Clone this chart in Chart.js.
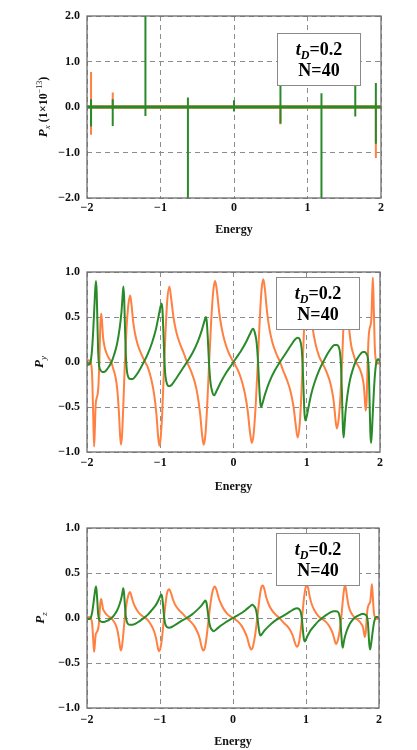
<!DOCTYPE html>
<html>
<head>
<meta charset="utf-8">
<script src="https://cdn.jsdelivr.net/npm/chart.js@4.4.1/dist/chart.umd.min.js"></script>
<style>
  body { margin: 0; background: #fff; }
  canvas { position: absolute; left: 0; }
</style>
</head>
<body>
<canvas id="px" width="417" height="250" style="top:0"></canvas>
<canvas id="py" width="417" height="250" style="top:250px"></canvas>
<canvas id="pz" width="417" height="250" style="top:500px"></canvas>
<script>
// ---- data ----
const xTicks = [-2, -1, 0, 1, 2];

// P_x panel: flat noise band at zero plus narrow spikes (units of 1e-13)
const bandEnergy = [-2, 2];
const bandValue = [0, 0];
const greenSpikeE  = [-1.945, -1.65, -1.205, -0.627, 0, 0.632, 1.19, 1.65, 1.93];
const greenSpikeHi = [0.17, 0.17, 2.1, 0.21, 0.15, 0.6, 0.3, 0.6, 0.53];
const greenSpikeLo = [-0.43, -0.42, -0.2, -2.1, -0.1, -0.36, -2.1, -0.21, -0.81];
const orangeSpikeE  = [-1.945, -1.65, 0.632, 1.93];
const orangeSpikeHi = [0.77, 0.32, 0.05, 0.1];
const orangeSpikeLo = [-0.61, -0.05, -0.38, -1.12];

// energies sampled along the orange and green curves
const energyOrange = [-2.00,-1.975,-1.95,-1.93,-1.915,-1.903,-1.893,-1.882,-1.868,-1.855,-1.843,-1.83,-1.818,-1.805,-1.793,-1.78,-1.76,-1.735,-1.70,-1.67,-1.64,-1.61,-1.585,-1.565,-1.548,-1.536,-1.522,-1.505,-1.485,-1.46,-1.435,-1.41,-1.39,-1.37,-1.345,-1.31,-1.27,-1.22,-1.17,-1.12,-1.08,-1.05,-1.03,-1.012,-0.995,-0.975,-0.955,-0.93,-0.905,-0.875,-0.85,-0.82,-0.78,-0.73,-0.68,-0.635,-0.58,-0.53,-0.49,-0.455,-0.43,-0.408,-0.385,-0.36,-0.335,-0.305,-0.275,-0.25,-0.225,-0.195,-0.16,-0.12,-0.07,0,
  0.07,0.12,0.16,0.195,0.225,0.25,0.275,0.305,0.335,0.36,0.385,0.408,0.43,0.455,0.49,0.53,0.58,0.635,0.68,0.73,0.78,0.82,0.85,0.875,0.905,0.93,0.955,0.975,0.995,1.012,1.03,1.05,1.08,1.12,1.17,1.22,1.27,1.31,1.345,1.37,1.39,1.41,1.435,1.46,1.485,1.505,1.522,1.536,1.548,1.565,1.585,1.61,1.64,1.67,1.70,1.735,1.76,1.78,1.793,1.805,1.818,1.83,1.843,1.855,1.868,1.882,1.893,1.903,1.915,1.93,1.95,1.975,2.00];
const energyGreen = [-2.00,-1.98,-1.96,-1.945,-1.93,-1.915,-1.9,-1.888,-1.877,-1.868,-1.858,-1.848,-1.835,-1.815,-1.79,-1.765,-1.735,-1.70,-1.665,-1.63,-1.59,-1.555,-1.53,-1.515,-1.503,-1.493,-1.482,-1.47,-1.455,-1.435,-1.41,-1.38,-1.34,-1.29,-1.23,-1.17,-1.11,-1.06,-1.02,-0.995,-0.982,-0.97,-0.958,-0.945,-0.93,-0.905,-0.875,-0.84,-0.78,-0.7,-0.635,-0.56,-0.49,-0.43,-0.395,-0.378,-0.365,-0.35,-0.335,-0.315,-0.29,-0.265,-0.23,-0.17,-0.1,-0.05,0,
  0.05,0.1,0.17,0.23,0.265,0.29,0.315,0.335,0.35,0.365,0.378,0.395,0.43,0.49,0.56,0.635,0.7,0.78,0.84,0.875,0.905,0.93,0.945,0.958,0.97,0.982,0.995,1.02,1.06,1.11,1.17,1.23,1.29,1.34,1.38,1.41,1.435,1.455,1.47,1.482,1.493,1.503,1.515,1.53,1.555,1.59,1.63,1.665,1.70,1.735,1.765,1.79,1.815,1.835,1.848,1.858,1.868,1.877,1.888,1.9,1.915,1.93,1.945,1.96,1.98,2.00];

const pyOrange = [0,0.02,0,-0.15,-0.6,-0.94,-0.75,-0.48,-0.4,-0.36,-0.25,0.05,0.42,0.54,0.42,0.27,0.17,0.1,0.04,0,-0.08,-0.17,-0.32,-0.55,-0.82,-0.92,-0.82,-0.5,-0.05,0.38,0.64,0.74,0.62,0.45,0.32,0.2,0.11,0.02,-0.06,-0.2,-0.38,-0.6,-0.82,-0.93,-0.85,-0.6,-0.2,0.3,0.68,0.84,0.7,0.5,0.33,0.2,0.1,0,-0.1,-0.22,-0.37,-0.58,-0.8,-0.92,-0.82,-0.5,-0.05,0.45,0.8,0.9,0.78,0.55,0.37,0.23,0.11,0,
  -0.11,-0.23,-0.37,-0.55,-0.78,-0.9,-0.8,-0.45,0.05,0.5,0.82,0.92,0.8,0.58,0.37,0.22,0.1,0,-0.1,-0.2,-0.33,-0.5,-0.7,-0.84,-0.68,-0.3,0.2,0.6,0.85,0.93,0.82,0.6,0.38,0.2,0.06,-0.02,-0.11,-0.2,-0.32,-0.45,-0.62,-0.74,-0.64,-0.38,0.05,0.5,0.82,0.92,0.82,0.55,0.32,0.17,0.08,0,-0.04,-0.1,-0.17,-0.27,-0.42,-0.54,-0.42,-0.05,0.25,0.36,0.4,0.48,0.75,0.94,0.6,0.15,0,-0.02,0];
const pyGreen = [0,-0.03,-0.02,0.03,0.15,0.35,0.6,0.8,0.9,0.78,0.45,0.12,-0.04,-0.09,-0.11,-0.11,-0.09,-0.05,0,0.08,0.2,0.37,0.55,0.72,0.84,0.72,0.4,0.08,-0.1,-0.17,-0.19,-0.19,-0.16,-0.1,-0.01,0.09,0.22,0.36,0.52,0.62,0.65,0.58,0.35,0.05,-0.15,-0.25,-0.27,-0.25,-0.18,-0.08,0,0.1,0.22,0.36,0.46,0.5,0.45,0.25,0,-0.22,-0.33,-0.37,-0.32,-0.22,-0.12,-0.06,0,
  0.06,0.12,0.22,0.32,0.37,0.33,0.22,0,-0.25,-0.45,-0.5,-0.46,-0.36,-0.22,-0.1,0,0.08,0.18,0.25,0.27,0.25,0.15,-0.05,-0.35,-0.58,-0.65,-0.62,-0.52,-0.36,-0.22,-0.09,0.01,0.1,0.16,0.19,0.19,0.17,0.1,-0.08,-0.4,-0.72,-0.84,-0.72,-0.55,-0.37,-0.2,-0.08,0,0.05,0.09,0.11,0.11,0.09,0.04,-0.12,-0.45,-0.78,-0.9,-0.8,-0.6,-0.35,-0.15,-0.03,0.02,0.03,0];

const pzOrange = [0,0.01,0,-0.06,-0.24,-0.375,-0.3,-0.19,-0.16,-0.14,-0.1,0.02,0.16,0.21,0.16,0.1,0.07,0.04,0.015,0,-0.03,-0.07,-0.13,-0.22,-0.32,-0.36,-0.32,-0.2,-0.02,0.15,0.25,0.29,0.24,0.18,0.13,0.08,0.04,0.01,-0.02,-0.08,-0.15,-0.24,-0.33,-0.37,-0.34,-0.24,-0.08,0.12,0.27,0.32,0.28,0.2,0.13,0.08,0.04,0,-0.04,-0.09,-0.15,-0.23,-0.32,-0.36,-0.33,-0.2,-0.02,0.18,0.31,0.35,0.31,0.22,0.15,0.09,0.04,0,
  -0.04,-0.09,-0.15,-0.22,-0.31,-0.35,-0.31,-0.18,0.02,0.2,0.33,0.36,0.32,0.23,0.15,0.09,0.04,0,-0.04,-0.08,-0.13,-0.2,-0.28,-0.32,-0.27,-0.12,0.08,0.24,0.34,0.37,0.33,0.24,0.15,0.08,0.02,-0.01,-0.04,-0.08,-0.13,-0.18,-0.24,-0.29,-0.25,-0.15,0.02,0.2,0.32,0.36,0.32,0.22,0.13,0.07,0.03,0,-0.015,-0.04,-0.07,-0.1,-0.16,-0.21,-0.16,-0.02,0.1,0.14,0.16,0.19,0.3,0.375,0.24,0.06,0,-0.01,0];
const pzGreen = [0,-0.01,-0.01,0.01,0.06,0.14,0.24,0.31,0.35,0.3,0.18,0.05,-0.015,-0.035,-0.045,-0.045,-0.035,-0.02,0,0.03,0.08,0.15,0.22,0.28,0.33,0.28,0.16,0.03,-0.04,-0.07,-0.075,-0.075,-0.065,-0.04,-0.005,0.035,0.09,0.14,0.2,0.245,0.26,0.23,0.14,0.02,-0.06,-0.1,-0.107,-0.1,-0.07,-0.03,0,0.04,0.09,0.14,0.18,0.195,0.175,0.1,0,-0.09,-0.13,-0.147,-0.127,-0.087,-0.047,-0.024,0,
  0.024,0.047,0.087,0.127,0.147,0.13,0.09,0,-0.1,-0.175,-0.195,-0.18,-0.14,-0.09,-0.04,0,0.03,0.07,0.1,0.107,0.1,0.06,-0.02,-0.14,-0.23,-0.26,-0.245,-0.2,-0.14,-0.09,-0.035,0.005,0.04,0.065,0.075,0.075,0.07,0.04,-0.03,-0.16,-0.28,-0.33,-0.28,-0.22,-0.15,-0.08,-0.03,0,0.02,0.035,0.045,0.045,0.035,0.015,-0.05,-0.18,-0.3,-0.35,-0.31,-0.24,-0.14,-0.06,-0.01,0.01,0.01,0];

// ---- helpers ----
const ORANGE = '#ff8040';
const GREEN = '#2a8a2a';
const SERIF = '"Liberation Serif", "DejaVu Serif", serif';

Chart.defaults.font.family = SERIF;
Chart.defaults.color = '#111';

function pts(xs, ys) {
    return xs.map((x, i) => ({x: x, y: ys[i]}));
}

function spikePts(es, hi, lo) {
    const out = [{x: -2, y: 0}];
    es.forEach((e, i) => {
        out.push({x: e, y: 0}, {x: e, y: hi[i]}, {x: e, y: lo[i]}, {x: e, y: 0});
    });
    out.push({x: 2, y: 0});
    return out;
}

const minus = v => (v < 0 ? '\u2212' : '');

// draws pieces of text [text, font, dy] centred on x
function drawPieces(ctx, pieces, cx, y) {
    let w = 0;
    pieces.forEach(p => { ctx.font = p[1]; w += ctx.measureText(p[0]).width; });
    let x = cx - w / 2;
    pieces.forEach(p => {
        ctx.font = p[1];
        ctx.fillText(p[0], x, y + (p[2] || 0));
        x += ctx.measureText(p[0]).width;
    });
}

// frame, parameter box and y axis title
const deco = {
    id: 'deco',
    afterDatasetsDraw(chart, args, o) {
        const {ctx, chartArea: a} = chart;
        ctx.save();
        ctx.strokeStyle = '#6e6e6e';
        ctx.lineWidth = 1.3;
        ctx.strokeRect(a.left, a.top, a.right - a.left, a.bottom - a.top);

        const bx = Math.round(a.left + o.boxX) + 0.5, by = Math.round(a.top + o.boxY) + 0.5;
        const bw = 83, bh = 52;
        ctx.fillStyle = '#fff';
        ctx.fillRect(bx, by, bw, bh);
        ctx.strokeStyle = '#8a8a8a';
        ctx.lineWidth = 1;
        ctx.strokeRect(bx, by, bw, bh);

        ctx.fillStyle = '#000';
        ctx.textBaseline = 'alphabetic';
        ctx.textAlign = 'left';
        drawPieces(ctx, [
            ['t', 'italic bold 18px ' + SERIF],
            ['D', 'italic bold 12px ' + SERIF, 4],
            ['=0.2', 'bold 18px ' + SERIF]
        ], bx + bw / 2, by + 21);
        drawPieces(ctx, [['N=40', 'bold 18px ' + SERIF]], bx + bw / 2, by + 42);

        // rotated y title
        ctx.fillStyle = '#111';
        ctx.translate(o.titleX, (a.top + a.bottom) / 2);
        ctx.rotate(-Math.PI / 2);
        const pieces = [
            ['P', 'italic bold 13px ' + SERIF],
            [o.sub, 'italic 9px ' + SERIF, 3]
        ];
        if (o.unit) {
            pieces.push([' (1\u00d710', 'bold 12px ' + SERIF]);
            pieces.push(['\u221213', '8px ' + SERIF, -5]);
            pieces.push([')', 'bold 12px ' + SERIF]);
        }
        drawPieces(ctx, pieces, 0, 4);
        ctx.restore();
    }
};

function makeOptions(cfg) {
    return {
        responsive: false,
        animation: false,
        layout: {padding: {top: cfg.top, right: cfg.right, bottom: cfg.bottom, left: 0}},
        plugins: {
            legend: {display: false},
            tooltip: {enabled: false},
            deco: cfg.deco
        },
        elements: {point: {radius: 0}},
        scales: {
            x: {
                type: 'linear',
                min: -2,
                max: 2,
                afterBuildTicks: s => { s.ticks = xTicks.map(v => ({value: v})); },
                afterFit: s => { s.height = cfg.xh; },
                ticks: {
                    padding: cfg.tickPad,
                    font: {size: 12, weight: 'bold'},
                    callback: v => minus(v) + Math.abs(v)
                },
                grid: {color: '#8c8c8c', lineWidth: 1, drawTicks: false},
                border: {display: false, dash: [5, 4]},
                title: {display: true, text: 'Energy', font: {size: 12, weight: 'bold'}, padding: 0}
            },
            y: {
                min: cfg.ymin,
                max: cfg.ymax,
                afterBuildTicks: s => { s.ticks = cfg.yTicks.map(v => ({value: v})); },
                afterFit: s => { s.width = 87; },
                ticks: {
                    padding: 7,
                    font: {size: 12, weight: 'bold'},
                    callback: v => minus(v) + Math.abs(v).toFixed(1)
                },
                grid: {color: '#8c8c8c', lineWidth: 1, drawTicks: false},
                border: {display: false, dash: [5, 4]}
            }
        }
    };
}

function curve(data, color) {
    return {
        data: data,
        borderColor: color,
        borderWidth: 2,
        fill: false,
        cubicInterpolationMode: 'monotone'
    };
}

// ---- P_x ----
new Chart(document.getElementById('px'), {
    type: 'line',
    data: {
        datasets: [
            {data: spikePts(greenSpikeE, greenSpikeHi, greenSpikeLo), borderColor: GREEN, borderWidth: 2, tension: 0},
            {data: pts(bandEnergy, bandValue), borderColor: GREEN, borderWidth: 3, tension: 0},
            {data: spikePts(orangeSpikeE, orangeSpikeHi, orangeSpikeLo), borderColor: ORANGE, borderWidth: 2, tension: 0},
            {data: pts(bandEnergy, bandValue), borderColor: ORANGE, borderWidth: 3.6, tension: 0}
        ]
    },
    options: makeOptions({
        top: 16, right: 36, bottom: 13, xh: 39, tickPad: 3,
        ymin: -2, ymax: 2, yTicks: [-2, -1, 0, 1, 2],
        deco: {boxX: 190, boxY: 17, titleX: 43, sub: 'x', unit: true}
    }),
    plugins: [deco]
});

// ---- P_y ----
new Chart(document.getElementById('py'), {
    type: 'line',
    data: {
        datasets: [
            curve(pts(energyGreen, pyGreen), GREEN),
            curve(pts(energyOrange, pyOrange), ORANGE)
        ]
    },
    options: makeOptions({
        top: 22, right: 37, bottom: 6, xh: 42, tickPad: 4,
        ymin: -1, ymax: 1, yTicks: [-1, -0.5, 0, 0.5, 1],
        deco: {boxX: 189, boxY: 5, titleX: 39, sub: 'y', unit: false}
    }),
    plugins: [deco]
});

// ---- P_z ----
new Chart(document.getElementById('pz'), {
    type: 'line',
    data: {
        datasets: [
            curve(pts(energyGreen, pzGreen), GREEN),
            curve(pts(energyOrange, pzOrange), ORANGE)
        ]
    },
    options: makeOptions({
        top: 28, right: 38, bottom: 1, xh: 41, tickPad: 5,
        ymin: -1, ymax: 1, yTicks: [-1, -0.5, 0, 0.5, 1],
        deco: {boxX: 189, boxY: 5, titleX: 40, sub: 'z', unit: false}
    }),
    plugins: [deco]
});
</script>
</body>
</html>
